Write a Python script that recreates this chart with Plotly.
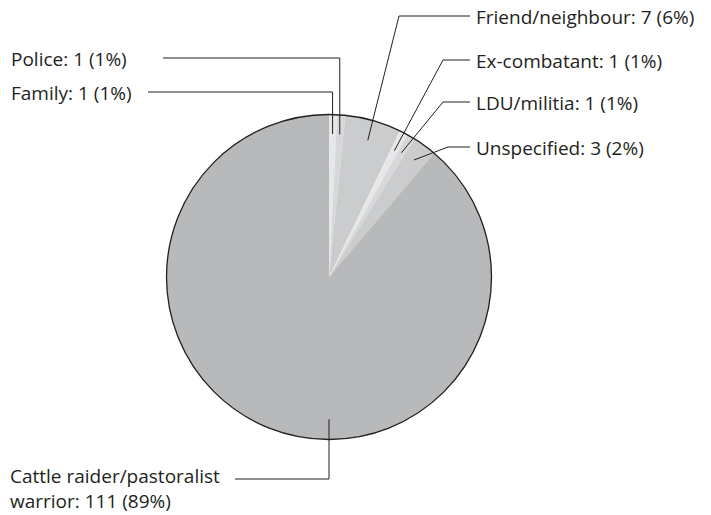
import math
import plotly.graph_objects as go

# ---- data ----
categories = ["Family", "Police", "Friend/neighbour", "Ex-combatant",
              "LDU/militia", "Unspecified", "Cattle raider/pastoralist warrior"]
counts = [1, 1, 7, 1, 1, 3, 111]
percents = [1, 1, 6, 1, 1, 2, 89]
colors = ["#e6e7e8", "#d7d8da", "#cbcccd", "#e6e7e8", "#d7d8da", "#cbcccd", "#b8b9bb"]

W, H = 711, 515
CX, CY, R = 329, 277, 162.5
INK = "#231f20"
FONT = "Open Sans"
FS = 19

def px(x):
    return x / W

def py(y):
    return 1 - y / H

fig = go.Figure()
dom = dict(x=[px(CX - R), px(CX + R)], y=[py(CY + R), py(CY - R)])
fig.add_trace(go.Pie(
    labels=categories, values=counts, sort=False, direction="clockwise",
    rotation=0, marker=dict(colors=colors, line=dict(width=0)),
    textinfo="none", hoverinfo="label+value", domain=dom, showlegend=False))
# outline circle only
fig.add_trace(go.Pie(
    labels=["all"], values=[sum(counts)], sort=False,
    marker=dict(colors=["rgba(0,0,0,0)"], line=dict(color=INK, width=1.3)),
    textinfo="none", hoverinfo="skip", domain=dom, showlegend=False))

total = sum(counts)
cum = 0
anchors = []
for v in counts:
    mid = (cum + v / 2) / total * 360
    anchors.append(mid)
    cum += v

layout_cfg = {
    "Family": dict(side="left", tx=9, ty=92, line_start=148, rf=0.88),
    "Police": dict(side="left", tx=9, ty=58, line_start=163, rf=0.88),
    "Friend/neighbour": dict(side="right", tx=474, ty=16, elbow=399, rf=0.875),
    "Ex-combatant": dict(side="right", tx=474, ty=60, elbow=443, rf=0.875),
    "LDU/militia": dict(side="right", tx=474, ty=102, elbow=443, rf=0.885),
    "Unspecified": dict(side="right", tx=474, ty=147, elbow=448, rf=0.89),
    "Cattle raider/pastoralist warrior": dict(side="bottom", tx=9, ty=479,
                                              line_start=235, rf=0.875, angle=180),
}

shapes = []
annotations = []

for cat, n, p, ang in zip(categories, counts, percents, anchors):
    cfg = layout_cfg[cat]
    a = math.radians(cfg.get("angle", ang))
    ax = CX + R * cfg["rf"] * math.sin(a)
    ay = CY - R * cfg["rf"] * math.cos(a)
    if cfg["side"] == "right":
        pts = [(ax, ay), (cfg["elbow"], cfg["ty"]), (470, cfg["ty"])]
    else:
        pts = [(cfg["line_start"], cfg["ty"]), (ax, cfg["ty"]), (ax, ay)]
    path = "M " + " L ".join(f"{px(x):.5f},{py(y):.5f}" for x, y in pts)
    shapes.append(dict(type="path", xref="paper", yref="paper", path=path,
                       line=dict(color=INK, width=1), fillcolor="rgba(0,0,0,0)"))
    if cfg["side"] == "bottom":
        annotations.append(dict(
            x=px(cfg["tx"]), y=0, xref="paper", yref="paper",
            text=f"Cattle raider/pastoralist<br>warrior: {n} ({p}%)",
            showarrow=False, xanchor="left", yanchor="bottom", align="left",
            borderpad=0))
    else:
        annotations.append(dict(
            x=px(cfg["tx"]), y=py(cfg["ty"] + 1), xref="paper", yref="paper",
            text=f"{cat}: {n} ({p}%)", showarrow=False, xanchor="left",
            yanchor="middle", align="left"))

fig.update_layout(
    width=W, height=H, margin=dict(l=0, r=0, t=0, b=0),
    paper_bgcolor="white", plot_bgcolor="white",
    font=dict(family=FONT, size=FS, color=INK),
    shapes=shapes, annotations=annotations,
)
fig.write_html("out.html", config={"displayModeBar": False},
               post_script="document.body.style.margin='0';document.body.style.padding='0';")
